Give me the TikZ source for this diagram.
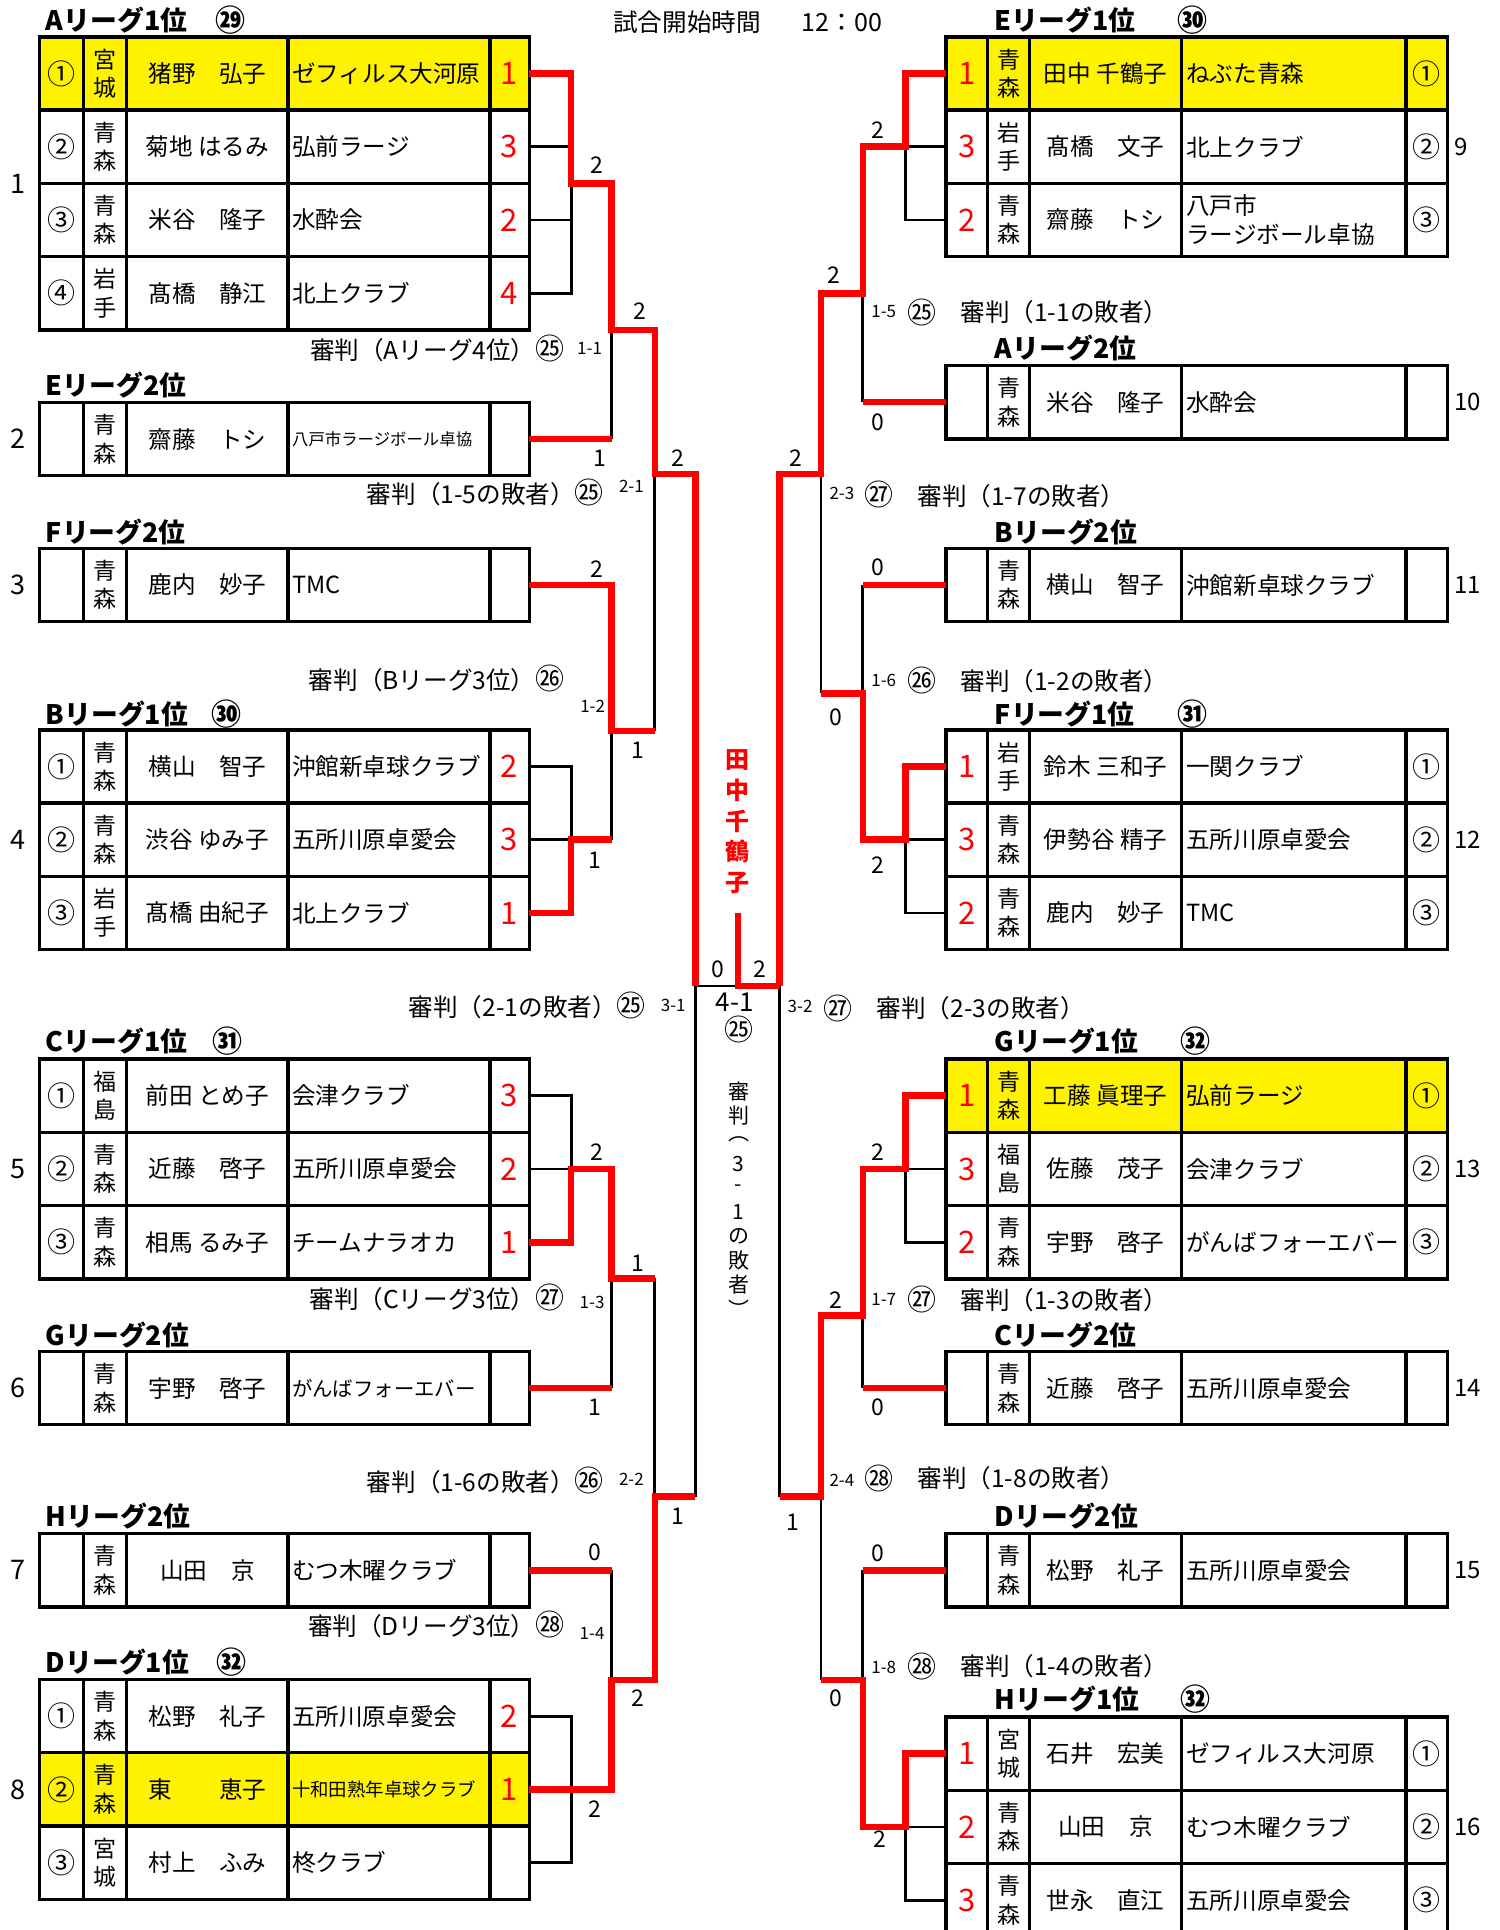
\documentclass[tikz,border=0pt]{standalone}
\usepackage{fontspec}
\setmainfont{Noto Sans CJK JP}

% smaller club names
\newcommand{\shrink}[2]{{\fontsize{#1}{#1}\selectfont #2}}
% circled umpire number
\newcommand{\cn}[1]{{\fontsize{14.5}{14}\selectfont #1}}

% left table row: id, top, fill, seed, pref, name, club, score
\newcommand{\leftrow}[8]{%
  \fill[#3] (32,#2) rectangle (430,#2+59.5);
  \draw[tblline] (32,#2) rectangle (430,#2+59.5)
    (68,#2) -- ++(0,59.5) (103,#2) -- ++(0,59.5)
    (234,#2) -- ++(0,59.5) (398,#2) -- ++(0,59.5);
  \node[seedtxt] (#1-seed) at (50,#2+29.75) {#4};
  \node[preftxt] (#1-pref) at (85.5,#2+29.75) {#5};
  \node[nametxt] (#1-name) at (168.5,#2+29.75) {#6};
  \node[clubtxt] (#1-club) at (237,#2+29.75) {#7};
  \node[scoretxt] (#1-score) at (414,#2+29.75) {#8};
  \coordinate (#1) at (430,#2+29.75);
}

% right table row: id, top, fill, score, pref, name, club, seed
\newcommand{\rightrow}[8]{%
  \fill[#3] (768.6,#2) rectangle (1176.2,#2+59.5);
  \draw[tblline] (768.6,#2) rectangle (1176.2,#2+59.5)
    (802.3,#2) -- ++(0,59.5) (836.5,#2) -- ++(0,59.5)
    (960,#2) -- ++(0,59.5) (1142.4,#2) -- ++(0,59.5);
  \node[scoretxt] (#1-score) at (785.5,#2+29.75) {#4};
  \node[preftxt] (#1-pref) at (819.4,#2+29.75) {#5};
  \node[nametxt] (#1-name) at (898.2,#2+29.75) {#6};
  \node[clubtxt] (#1-club) at (963.5,#2+29.75) {#7};
  \node[seedtxt] (#1-seed) at (1159.3,#2+29.75) {#8};
  \coordinate (#1) at (768.6,#2+29.75);
}

\begin{document}
\begin{tikzpicture}[x=0.6154pt,y=-0.6154pt,
    tblline/.style={line width=1.7pt},
    bline/.style={line width=1.4pt},
    rline/.style={draw=red,line width=3.3pt},
    seedtxt/.style={inner sep=0pt,font=\fontsize{14}{14}\selectfont},
    preftxt/.style={inner sep=0pt,align=center,font=\fontsize{11.5}{14.2}\selectfont},
    nametxt/.style={inner sep=0pt,font=\fontsize{11.8}{14}\selectfont},
    clubtxt/.style={inner sep=0pt,anchor=west,align=left,font=\fontsize{11.8}{14.8}\selectfont},
    scoretxt/.style={inner sep=0pt,text=red,font=\fontsize{15.5}{18}\selectfont},
    headtxt/.style={inner sep=0pt,anchor=west,font=\fontsize{13.4}{14}\selectfont\bfseries},
    headnum/.style={inner sep=0pt,font=\fontsize{15}{15}\selectfont\bfseries},
    reftxt/.style={inner sep=0pt,font=\fontsize{12.3}{14}\selectfont},
    gamelbl/.style={inner sep=0pt,font=\fontsize{11.5}{14}\selectfont},
    gameid/.style={inner sep=0pt,font=\fontsize{8.5}{10}\selectfont},
    sidenum/.style={inner sep=0pt,font=\fontsize{13.5}{16}\selectfont},
    winner/.style={inner sep=0pt,text=red,font=\fontsize{12}{14}\selectfont\bfseries}]

  \fill[white] (0,0) rectangle (1218,1568);
  \useasboundingbox (0,0) rectangle (1218,1568);

  \node[reftxt,anchor=west] (title) at (498,18) {試合開始時間};
  \node[reftxt,anchor=west,font=\fontsize{12.5}{14}\selectfont] (time) at (651,18) {12：00};

  % left tables
  \node[headtxt] (hla) at (37,16) {Aリーグ1位};
  \node[headnum] (hlan) at (187,16) {㉙};
  \leftrow{la1}{30}{yellow}{①}{宮\\城}{猪野　弘子}{ゼフィルス大河原}{1}
  \leftrow{la2}{89.5}{white}{②}{青\\森}{菊地 はるみ}{弘前ラージ}{3}
  \leftrow{la3}{149}{white}{③}{青\\森}{米谷　隆子}{水酔会}{2}
  \leftrow{la4}{208.5}{white}{④}{岩\\手}{髙橋　静江}{北上クラブ}{4}

  \node[headtxt] (hle) at (37,313) {Eリーグ2位};
  \leftrow{le}{327}{white}{}{青\\森}{齋藤　トシ}{\shrink{8.2}{八戸市ラージボール卓協}}{}

  \node[headtxt] (hlf) at (37,432) {Fリーグ2位};
  \leftrow{lf}{445.5}{white}{}{青\\森}{鹿内　妙子}{TMC}{}

  \node[headtxt] (hlb) at (37,580) {Bリーグ1位};
  \node[headnum] (hlbn) at (184,580) {㉚};
  \leftrow{lb1}{593}{white}{①}{青\\森}{横山　智子}{沖館新卓球クラブ}{2}
  \leftrow{lb2}{652.5}{white}{②}{青\\森}{渋谷 ゆみ子}{五所川原卓愛会}{3}
  \leftrow{lb3}{712}{white}{③}{岩\\手}{髙橋 由紀子}{北上クラブ}{1}

  \node[headtxt] (hlc) at (37,846) {Cリーグ1位};
  \node[headnum] (hlcn) at (185,846) {㉛};
  \leftrow{lc1}{860.5}{white}{①}{福\\島}{前田 とめ子}{会津クラブ}{3}
  \leftrow{lc2}{920}{white}{②}{青\\森}{近藤　啓子}{五所川原卓愛会}{2}
  \leftrow{lc3}{979.5}{white}{③}{青\\森}{相馬 るみ子}{チームナラオカ}{1}

  \node[headtxt] (hlg) at (37,1085) {Gリーグ2位};
  \leftrow{lg}{1098}{white}{}{青\\森}{宇野　啓子}{\shrink{10.2}{がんばフォーエバー}}{}

  \node[headtxt] (hlh) at (37,1232) {Hリーグ2位};
  \leftrow{lh}{1246}{white}{}{青\\森}{山田　京}{むつ木曜クラブ}{}

  \node[headtxt] (hld) at (37,1350) {Dリーグ1位};
  \node[headnum] (hldn) at (188,1350) {㉜};
  \leftrow{ld1}{1364.5}{white}{①}{青\\森}{松野　礼子}{五所川原卓愛会}{2}
  \leftrow{ld2}{1424}{yellow}{②}{青\\森}{東　　恵子}{\shrink{9.2}{十和田熟年卓球クラブ}}{1}
  \leftrow{ld3}{1483.5}{white}{③}{宮\\城}{村上　ふみ}{柊クラブ}{}

  % right tables
  \node[headtxt] (hre) at (808,16) {Eリーグ1位};
  \node[headnum] (hren) at (969,16) {㉚};
  \rightrow{re1}{30}{yellow}{1}{青\\森}{田中 千鶴子}{ねぶた青森}{①}
  \rightrow{re2}{89.5}{white}{3}{岩\\手}{髙橋　文子}{北上クラブ}{②}
  \rightrow{re3}{149}{white}{2}{青\\森}{齋藤　トシ}{八戸市\\ラージボール卓協}{③}

  \node[headtxt] (hra) at (808,283) {Aリーグ2位};
  \rightrow{ra}{297}{white}{}{青\\森}{米谷　隆子}{水酔会}{}

  \node[headtxt] (hrb) at (808,432) {Bリーグ2位};
  \rightrow{rb}{445.5}{white}{}{青\\森}{横山　智子}{沖館新卓球クラブ}{}

  \node[headtxt] (hrf) at (808,580) {Fリーグ1位};
  \node[headnum] (hrfn) at (969,580) {㉛};
  \rightrow{rf1}{593}{white}{1}{岩\\手}{鈴木 三和子}{一関クラブ}{①}
  \rightrow{rf2}{652.5}{white}{3}{青\\森}{伊勢谷 精子}{五所川原卓愛会}{②}
  \rightrow{rf3}{712}{white}{2}{青\\森}{鹿内　妙子}{TMC}{③}

  \node[headtxt] (hrg) at (808,846) {Gリーグ1位};
  \node[headnum] (hrgn) at (971,846) {㉜};
  \rightrow{rg1}{860.5}{yellow}{1}{青\\森}{工藤 眞理子}{弘前ラージ}{①}
  \rightrow{rg2}{920}{white}{3}{福\\島}{佐藤　茂子}{会津クラブ}{②}
  \rightrow{rg3}{979.5}{white}{2}{青\\森}{宇野　啓子}{がんばフォーエバー}{③}

  \node[headtxt] (hrc) at (808,1085) {Cリーグ2位};
  \rightrow{rc}{1098}{white}{}{青\\森}{近藤　啓子}{五所川原卓愛会}{}

  \node[headtxt] (hrd) at (808,1232) {Dリーグ2位};
  \rightrow{rd}{1246}{white}{}{青\\森}{松野　礼子}{五所川原卓愛会}{}

  \node[headtxt] (hrh) at (808,1380) {Hリーグ1位};
  \node[headnum] (hrhn) at (971,1380) {㉜};
  \rightrow{rh1}{1395}{white}{1}{宮\\城}{石井　宏美}{ゼフィルス大河原}{①}
  \rightrow{rh2}{1454.5}{white}{2}{青\\森}{山田　京}{むつ木曜クラブ}{②}
  \rightrow{rh3}{1514}{white}{3}{青\\森}{世永　直江}{五所川原卓愛会}{③}

  % entry numbers
  \foreach \y/\t [count=\i] in {149/1,356.75/2,475.25/3,682.25/4,949.75/5,1127.75/6,1275.75/7,1453.75/8}
    \node[sidenum] (ln\i) at (15,\y) {\t};
  \foreach \y/\t [count=\i] in {119.25/9,326.75/10,475.25/11,682.25/12,949.75/13,1127.75/14,1275.75/15,1484.25/16}
    \node[gamelbl,anchor=west,font=\fontsize{12}{14}\selectfont] (rn\i) at (1181,\y) {\t};

  % bracket points
  \coordinate (ja) at (464,149);
  \coordinate (m11) at (497,268);
  \coordinate (m21) at (532,385);
  \coordinate (m12) at (497,594);
  \coordinate (n12) at (532,594);
  \coordinate (jb) at (464,682.25);
  \coordinate (jc) at (464,949.75);
  \coordinate (m13) at (497,1038.5);
  \coordinate (n13) at (532,1038.5);
  \coordinate (m22) at (532,1216);
  \coordinate (m14) at (497,1365);
  \coordinate (jd) at (464,1453.75);
  \coordinate (fl) at (565,801);
  \coordinate (fc) at (599.5,801);
  \coordinate (fr) at (633.5,801);
  \coordinate (tip) at (599.5,742);
  \coordinate (je) at (735.6,119.25);
  \coordinate (m15) at (701,238.5);
  \coordinate (m23) at (667,385);
  \coordinate (u16) at (667,563.4);
  \coordinate (m16) at (701,563.4);
  \coordinate (jf) at (735.6,682.25);
  \coordinate (jg) at (735.6,949.75);
  \coordinate (m17) at (701,1068.6);
  \coordinate (m24) at (667,1216);
  \coordinate (u18) at (667,1365);
  \coordinate (m18) at (701,1365);
  \coordinate (jh) at (735.6,1484.25);

  % losers' lines
  \draw[bline] (la2) -| (ja);
  \draw[bline] (la4) -| (ja);
  \draw[bline] (la3) -- (la3 -| ja);
  \draw[bline] (m11) -- (le -| m11);
  \draw[bline] (m21) -- (n12);
  \draw[bline] (lb1) -| (jb);
  \draw[bline] (lb2) -- (jb);
  \draw[bline] (m12) -- (jb -| m12);
  \draw[bline] (lc1) -| (jc);
  \draw[bline] (lc2) -- (jc);
  \draw[bline] (m13) -- (lg -| m13);
  \draw[bline] (n13) -- (m22);
  \draw[bline] (lh -| m14) -- (m14);
  \draw[bline] (ld1) -| (jd);
  \draw[bline] (ld3) -| (jd);
  \draw[bline] (fl) -- (fl |- m22);
  \draw[bline] (fl) -- (fc);
  \draw[bline] (fr) -- (fr |- m24);
  \draw[bline] (re2) -- (je);
  \draw[bline] (re3) -| (je);
  \draw[bline] (m15) -- (ra -| m15);
  \draw[bline] (rb -| m15) -- (m16);
  \draw[bline] (m23) -- (u16);
  \draw[bline] (rf2) -- (jf);
  \draw[bline] (rf3) -| (jf);
  \draw[bline] (rg2) -- (jg);
  \draw[bline] (rg3) -| (jg);
  \draw[bline] (m17) -- (rc -| m17);
  \draw[bline] (rd -| m17) -- (m18);
  \draw[bline] (m24) -- (u18);
  \draw[bline] (rh2) -- (jh);
  \draw[bline] (rh3) -| (jh);

  % winners' lines
  \draw[rline] (la1) -| (ja) -| (m11) -| (m21) -| (fl);
  \draw[rline] (le) -- (le -| m11);
  \draw[rline] (lf) -| (m12) -- (n12);
  \draw[rline] (lb3) -| (jb) -- (jb -| m12);
  \draw[rline] (lc3) -| (jc) -| (m13) -- (n13);
  \draw[rline] (lg) -- (lg -| m13);
  \draw[rline] (ld2) -| (m14) -| (m22) -- (fl |- m22);
  \draw[rline] (lh) -- (lh -| m14);
  \draw[rline] (tip) -- (fc) -- (fr);
  \draw[rline] (re1) -| (je) -| (m15) -| (m23) -| (fr);
  \draw[rline] (ra) -- (ra -| m15);
  \draw[rline] (rb) -- (rb -| m15);
  \draw[rline] (u16) -- (m16) |- (jf) |- (rf1);
  \draw[rline] (rg1) -| (jg) -| (m17) -| (m24) -- (fr |- m24);
  \draw[rline] (rc) -- (rc -| m17);
  \draw[rline] (rd) -- (rd -| m17);
  \draw[rline] (u18) -- (m18) |- (jh) |- (rh1);

  % game scores
  \foreach \x/\y/\t [count=\i] in {485/134/2,520/253/2,487/372/1,551/372/2,485/462/2,518/609.5/1,
      483.5/699/1,583.5/787.5/0,485/935.8/2,518/1026.6/1,483/1143/1,551/1232/1,483/1261/0,
      518/1380/2,483/1469.5/2}
    \node[gamelbl] (gl\i) at (\x,\y) {\t};
  \foreach \x/\y/\t [count=\i] in {617.5/787.5/2,713.4/105.7/2,677.3/223.6/2,713.4/342.8/0,
      646.3/372.6/2,713.4/461/0,679.3/582.4/0,713.4/703/2,713.4/935.8/2,679.3/1056.4/2,
      713.4/1143/0,644.3/1236.4/1,713.4/1262/0,679.3/1380/0,714.6/1494/2}
    \node[gamelbl] (gr\i) at (\x,\y) {\t};

  % game numbers
  \foreach \x/\y/\t [count=\i] in {479/283/1-1,513/395/2-1,481.5/574/1-2,547/817/3-1,
      481/1058/1-3,513/1202/2-2,481/1327/1-4,718/253/1-5,684/401/2-3,718/553/1-6,
      650/818/3-2,718/1056/1-7,684/1203/2-4,718/1355/1-8}
    \node[gameid] (gid\i) at (\x,\y) {\t};

  % umpires
  \node[reftxt,anchor=east] (ul1) at (459,283) {審判（Aリーグ4位）\cn{㉕}};
  \node[reftxt,anchor=east] (ul2) at (491,400) {審判（1-5の敗者）\cn{㉕}};
  \node[reftxt,anchor=east] (ul3) at (459,551) {審判（Bリーグ3位）\cn{㉖}};
  \node[reftxt,anchor=east] (ul4) at (525,816.6) {審判（2-1の敗者）\cn{㉕}};
  \node[reftxt,anchor=east] (ul5) at (459,1054) {審判（Cリーグ3位）\cn{㉗}};
  \node[reftxt,anchor=east] (ul6) at (491,1202.5) {審判（1-6の敗者）\cn{㉖}};
  \node[reftxt,anchor=east] (ul7) at (459,1320) {審判（Dリーグ3位）\cn{㉘}};
  \foreach \x/\y/\t [count=\i] in {749/254/㉕,714/402/㉗,749/553/㉖,681/819/㉗,
      749/1056/㉗,714/1201/㉘,749/1354/㉘}
    \node[reftxt] (urn\i) at (\x,\y) {\cn{\t}};
  \foreach \x/\y/\t [count=\i] in {780/254/1-1,745/403/1-7,780/553/1-2,712/819/2-3,
      780/1056/1-3,745/1201/1-8,780/1354/1-4}
    \node[reftxt,anchor=west] (ur\i) at (\x,\y) {審判（\t の敗者）};

  % final
  \foreach \c [count=\i] in {田,中,千,鶴,子}
    \node[winner] (champ\i) at (599.5,592.5+24.9*\i) {\c};
  \node[gamelbl,font=\fontsize{13}{15}\selectfont] (final) at (597,814.5) {4-1};
  \node[reftxt] (finalref) at (600,836) {\cn{㉕}};
  \foreach \c [count=\i] in {審,判,︵,3,-,1,の,敗,者,︶}
    \node[reftxt,font=\fontsize{10.5}{12}\selectfont] (fu\i) at (600,867+19.65*\i) {\c};

\end{tikzpicture}
\end{document}
